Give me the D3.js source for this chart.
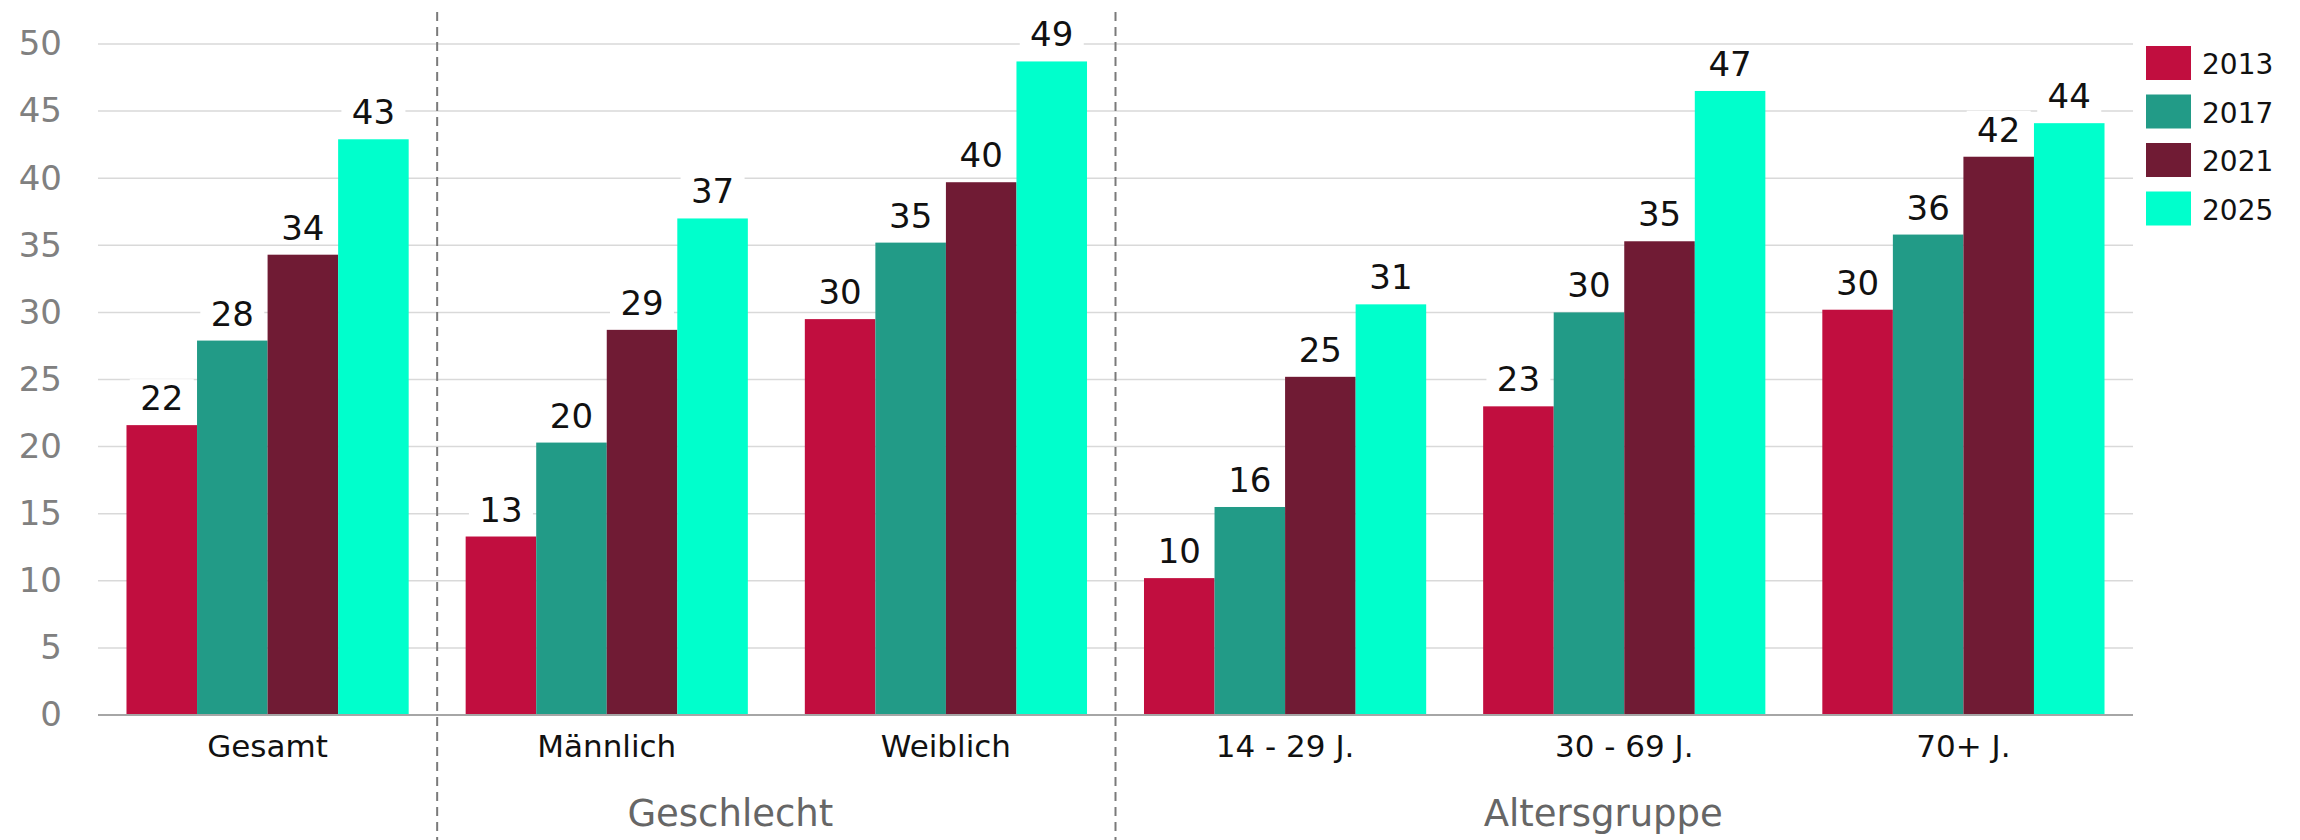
<!DOCTYPE html>
<html>
<head>
<meta charset="utf-8">
<title>Balken nach Jahr</title>
<script src="https://d3js.org/d3.v7.min.js"></script>
<style>
  html, body { margin: 0; padding: 0; background: #fff; }
  svg { display: block; font-family: "DejaVu Sans", sans-serif; }
</style>
</head>
<body>
<div id="chart"></div>
<script>
// categories on the x axis
var categories = ["Gesamt", "Männlich", "Weiblich", "14 - 29 J.", "30 - 69 J.", "70+ J."];
var years = ["2013", "2017", "2021", "2025"];
var colors = ["#c10e3f", "#229b87", "#701b34", "#00ffcc"];

// one value list per year
var v2013 = [21.6, 13.3, 29.5, 10.2, 23.0, 30.2];
var v2017 = [27.9, 20.3, 35.2, 15.5, 30.0, 35.8];
var v2021 = [34.3, 28.7, 39.7, 25.2, 35.3, 41.6];
var v2025 = [42.9, 37.0, 48.7, 30.6, 46.5, 44.1];
var series = [v2013, v2017, v2021, v2025];

var yTicks = [0, 5, 10, 15, 20, 25, 30, 35, 40, 45, 50];

// group captions under the axis
var groupLabels = ["Geschlecht", "Altersgruppe"];
var groupMembers = [["Männlich", "Weiblich"], ["14 - 29 J.", "30 - 69 J.", "70+ J."]];
var separatorsBefore = ["Männlich", "14 - 29 J."];

var W = 2300, H = 840;
var plotLeft = 98, plotRight = 2133, plotBottom = 715, plotTop = 44;

var svg = d3.select("#chart").append("svg")
    .attr("width", W)
    .attr("height", H);

var x0 = d3.scaleBand()
    .domain(categories)
    .range([plotLeft, plotRight])
    .paddingInner(0.168)
    .paddingOuter(0.084);

var x1 = d3.scaleBand()
    .domain(years)
    .range([0, x0.bandwidth()]);

var y = d3.scaleLinear()
    .domain([0, 50])
    .range([plotBottom, plotTop]);

// gridlines
svg.append("g")
  .selectAll("line")
  .data(yTicks.filter(function(t) { return t > 0; }))
  .join("line")
    .attr("x1", plotLeft)
    .attr("x2", plotRight)
    .attr("y1", function(d) { return y(d); })
    .attr("y2", function(d) { return y(d); })
    .attr("stroke", "#d9d9d9")
    .attr("stroke-width", 1.5);

// y axis labels
var yAxis = svg.append("g")
    .attr("transform", "translate(" + (plotLeft - 36) + ",0)")
    .call(d3.axisLeft(y).tickValues(yTicks).tickSize(0).tickPadding(0));
yAxis.select(".domain").remove();
yAxis.selectAll("text")
    .attr("font-family", "DejaVu Sans, sans-serif")
    .attr("font-size", 34)
    .attr("fill", "#808080");

// dashed separators
svg.append("g")
  .selectAll("line")
  .data(separatorsBefore)
  .join("line")
    .attr("x1", function(d) { return x0(d) - x0.step() * x0.paddingInner() / 2; })
    .attr("x2", function(d) { return x0(d) - x0.step() * x0.paddingInner() / 2; })
    .attr("y1", 12)
    .attr("y2", H)
    .attr("stroke", "#7a7a7a")
    .attr("stroke-width", 2)
    .attr("stroke-dasharray", "9,6");

// bars
var rows = [];
categories.forEach(function(c, i) {
  years.forEach(function(yr, j) {
    rows.push({cat: c, year: yr, value: series[j][i], color: colors[j]});
  });
});

svg.append("g")
  .selectAll("rect")
  .data(rows)
  .join("rect")
    .attr("x", function(d) { return x0(d.cat) + x1(d.year); })
    .attr("y", function(d) { return y(d.value); })
    .attr("width", x1.bandwidth())
    .attr("height", function(d) { return y(0) - y(d.value); })
    .attr("fill", function(d) { return d.color; });

// baseline
svg.append("line")
    .attr("x1", plotLeft)
    .attr("x2", plotRight)
    .attr("y1", y(0))
    .attr("y2", y(0))
    .attr("stroke", "#a6a6a6")
    .attr("stroke-width", 2);

// value labels with white box behind
var lab = svg.append("g")
  .selectAll("g")
  .data(rows)
  .join("g")
    .attr("transform", function(d) {
      return "translate(" + (x0(d.cat) + x1(d.year) + x1.bandwidth() / 2) + "," + (y(d.value) - 15) + ")";
    });
lab.append("rect")
    .attr("x", -32)
    .attr("y", -31)
    .attr("width", 64)
    .attr("height", 35)
    .attr("fill", "#fff");
lab.append("text")
    .attr("text-anchor", "middle")
    .attr("font-size", 34)
    .attr("fill", "#111")
    .text(function(d) { return Math.round(d.value); });

// category labels
svg.append("g")
  .selectAll("text")
  .data(categories)
  .join("text")
    .attr("x", function(d) { return x0(d) + x0.bandwidth() / 2; })
    .attr("y", 757)
    .attr("text-anchor", "middle")
    .attr("font-size", 31)
    .attr("fill", "#111")
    .text(function(d) { return d; });

// group captions
svg.append("g")
  .selectAll("text")
  .data(groupLabels)
  .join("text")
    .attr("x", function(d, i) {
      var m = groupMembers[i];
      var a = x0(m[0]) - x0.step() * x0.paddingInner() / 2;
      var b = x0(m[m.length - 1]) + x0.bandwidth() + x0.step() * x0.paddingInner() / 2;
      return (a + b) / 2 - (i === 0 ? 46 : 21);
    })
    .attr("y", 826)
    .attr("text-anchor", "middle")
    .attr("font-size", 37)
    .attr("fill", "#666")
    .text(function(d) { return d; });

// legend
var leg = svg.append("g")
  .selectAll("g")
  .data(years)
  .join("g")
    .attr("transform", function(d, i) { return "translate(2146," + (46 + i * 48.5) + ")"; });
leg.append("rect")
    .attr("width", 45)
    .attr("height", 34)
    .attr("fill", function(d, i) { return colors[i]; });
leg.append("text")
    .attr("x", 56)
    .attr("y", 28)
    .attr("font-size", 28)
    .attr("fill", "#111")
    .text(function(d) { return d; });
</script>
</body>
</html>
